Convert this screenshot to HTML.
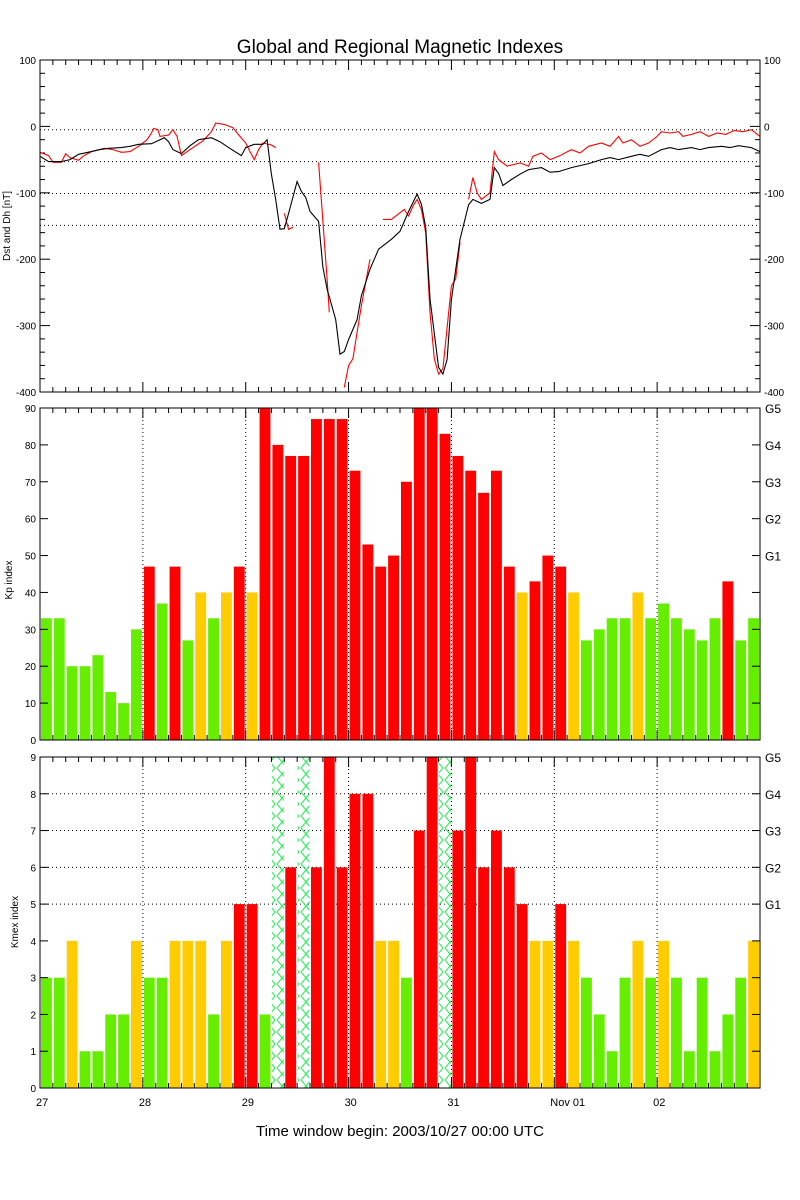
<!DOCTYPE html>
<html><head><meta charset="utf-8">
<style>
html,body{margin:0;padding:0;background:#fff;}
svg{display:block;font-family:"Liberation Sans",sans-serif;}
</style></head>
<body>
<svg id="chart" width="800" height="1200" viewBox="0 0 800 1200" xmlns="http://www.w3.org/2000/svg">
<defs>
<pattern id="xhatch" patternUnits="userSpaceOnUse" width="12" height="12">
<path d="M1 0 L11 12 M11 0 L1 12" stroke="#22ee55" stroke-width="1" fill="none"/>
</pattern>
</defs>
<text x="400" y="53" text-anchor="middle" font-size="19" fill="#000">Global and Regional Magnetic Indexes</text>
<text x="400" y="1136" text-anchor="middle" font-size="15" fill="#000">Time window begin: 2003/10/27 00:00 UTC</text>
<g id="g"></g>
</svg>
<script>
// ---- data ----
const dayLabels = ["27","28","29","30","31","Nov 01","02"];
const kpValues = [33,33,20,20,23,13,10,30, 47,37,47,27,40,33,40,47, 40,90,80,77,77,87,87,87, 73,53,47,50,70,90,90,83, 77,73,67,73,47,40,43,50, 47,40,27,30,33,33,40,33, 37,33,30,27,33,43,27,33];
const kmexValues = [3,3,4,1,1,2,2,4, 3,3,4,4,4,2,4,5, 5,2,null,6,null,6,9,6, 8,8,4,4,3,7,9,null, 7,9,6,7,6,5,4,4, 5,4,3,2,1,3,4,3, 4,3,1,3,1,2,3,4];
const dstHours = [0,2,5,7,9,12,14,16,19,21,23,26,28,29,30,31,33,35,37,40,42,44,47,48,50,52,53,54,55,56,57,58,60,61,62,63,65,66,67,68,69,70,71,72,74,75,77,79,82,84,85,86,88,89,90,91,93,94,95,96,98,100,101,103,105,106,107,108,110,112,114,117,119,121,124,126,128,131,133,135,138,140,142,145,147,149,152,154,156,159,161,163,166,168];
const dstValues = [-45,-53,-53,-50,-42,-38,-35,-33,-32,-30,-27,-26,-20,-17,-23,-35,-41,-29,-20,-17,-23,-32,-44,-32,-27,-27,-20,-72,-110,-155,-154,-131,-83,-98,-107,-128,-143,-212,-245,-268,-291,-343,-339,-321,-291,-255,-215,-185,-170,-158,-143,-128,-102,-117,-152,-260,-363,-373,-351,-261,-170,-118,-110,-116,-110,-62,-71,-89,-80,-72,-65,-62,-69,-68,-62,-59,-56,-50,-47,-50,-45,-42,-45,-35,-32,-35,-32,-35,-32,-30,-32,-29,-32,-38];
const dhHours = [0,2,3,5,6,7,9,10,12,15,17,19,21,23,25,26,26.5,27.5,28,30,31,32,33,35,38,39,40,41,43,45,46,48,49,50,51,52,54,55,null,57,58,59,null,65,67,67.5,null,71,72,73,74,75,77,null,80,82,84,85,86,87,88,89,90,91,92,93,94,96,97,98,null,100,101,102,103,105,106,107,109,112,114,115,117,119,121,124,126,128,131,133,135,136,138,140,142,144,145,147,149,150,152,154,156,158,160,162,164,166,168];
const dhValues = [-39,-44,-54,-54,-41,-47,-51,-45,-38,-33,-35,-39,-38,-30,-20,-10,-3,-5,-15,-13,-5,-15,-44,-35,-22,-15,-8,5,3,-2,-10,-25,-38,-50,-35,-25,-28,-32,null,-131,-155,-152,null,-54,-230,-280,null,-393,-360,-350,-310,-270,-200,null,-140,-140,-130,-125,-135,-120,-110,-125,-160,-280,-350,-373,-365,-240,-230,-175,null,-110,-77,-100,-110,-100,-38,-50,-60,-55,-60,-45,-40,-50,-45,-35,-40,-30,-25,-30,-15,-25,-20,-30,-25,-15,-8,-10,-8,-15,-12,-8,-15,-10,-12,-6,-8,-5,-15];
const dstTicks = [100,0,-100,-200,-300,-400];
const dstGrid = [-5,-53,-101,-149];
const kpTicks = [0,10,20,30,40,50,60,70,80,90];
const kmexTicks = [0,1,2,3,4,5,6,7,8,9];
const gLabels = ["G1","G2","G3","G4","G5"];

// ---- layout ----
const X0=40, X1=760, HOURS=168;
const xs = h => X0 + h*(X1-X0)/HOURS;
const P1={top:60,bot:392,min:-400,max:100};
const P2={top:408,bot:740,min:0,max:90};
const P3={top:757,bot:1088,min:0,max:9};
const ys = (p,v) => p.bot - (v-p.min)*(p.bot-p.top)/(p.max-p.min);
const NS="http://www.w3.org/2000/svg";
const G=document.getElementById('g');
function mk(tag,attrs){const e=document.createElementNS(NS,tag);for(const k in attrs)e.setAttribute(k,attrs[k]);G.appendChild(e);return e;}
function line(x1,y1,x2,y2,extra){return mk('line',Object.assign({x1,y1,x2,y2,stroke:'#000','stroke-width':1},extra||{}));}
function txt(x,y,s,anchor,size){const t=mk('text',{x,y,'text-anchor':anchor,'font-size':size||11,fill:'#000'});t.textContent=s;return t;}
const dotted={'stroke-dasharray':'1,3'};

function frame(p,name){
  const r=mk('rect',{x:X0,y:p.top,width:X1-X0,height:p.bot-p.top,fill:'none',stroke:'#000','stroke-width':1});
  
  
  for(let h=0;h<=HOURS;h+=3){
    const major=h%24===0, L=major?10:5;
    line(xs(h),p.top,xs(h),p.top+L);
    line(xs(h),p.bot,xs(h),p.bot-L);
  }
}
function dayGrid(p){
  for(let d=1;d<7;d++) line(xs(d*24),p.top,xs(d*24),p.bot,dotted);
}

// Panel 1
dstGrid.forEach(v=>line(X0,ys(P1,v),X1,ys(P1,v),dotted));
for(let v=-400;v<=100;v+=20){
  const L=(v%100===0)?10:5;
  line(X0,ys(P1,v),X0+L,ys(P1,v)); line(X1,ys(P1,v),X1-L,ys(P1,v));
}
dstTicks.forEach(v=>{
  const t1=txt(X0-4,ys(P1,v)+4,String(v),'end',10);
  
  
  const t2=txt(X1+4,ys(P1,v)+4,String(v),'start',10);
  
  
});
function series(hs,vs,color,name){
  let d='',pen=false;
  for(let i=0;i<hs.length;i++){
    if(hs[i]===null||vs[i]===null){pen=false;continue;}
    d+=(pen?'L':'M')+xs(hs[i]).toFixed(1)+' '+ys(P1,vs[i]).toFixed(1)+' ';pen=true;
  }
  const p=mk('path',{d,fill:'none',stroke:color,'stroke-width':1.1});
  
  
}
series(dhHours,dhValues,'#ff0000','dh-regional-line');
series(dstHours,dstValues,'#000000','dst-global-line');
frame(P1,'dst-panel');
const yt1=txt(0,0,'Dst and Dh [nT]','middle',10);
yt1.setAttribute('transform','translate(10,226) rotate(-90)');



// Panel 2 Kp
const slotW=(X1-X0)/kpValues.length;
function colKp(v){return v<40?'#66ee00':(v===40?'#ffcc00':'#ff0000');}
function colKm(v){return v<4?'#66ee00':(v===4?'#ffcc00':'#ff0000');}
dayGrid(P2);
kpValues.forEach((v,i)=>{
  const y=ys(P2,v);
  const b=mk('rect',{x:X0+i*slotW+1,y,width:slotW-2,height:P2.bot-y,fill:colKp(v)});
  
  
});
frame(P2,'kp-panel');
kpTicks.forEach(v=>{
  line(X0,ys(P2,v),X0+8,ys(P2,v)); line(X1,ys(P2,v),X1-8,ys(P2,v));
  const t=txt(X0-4,ys(P2,v)+4,String(v),'end',10);
  
  
});
gLabels.forEach((s,i)=>{
  const t=txt(X1+5,ys(P2,50+i*10)+5,s,'start',12);
  
  
});
const yt2=txt(0,0,'Kp index','middle',10);
yt2.setAttribute('transform','translate(12,580) rotate(-90)');



// Panel 3 Kmex
[5,6,7,8].forEach(v=>line(X0,ys(P3,v),X1,ys(P3,v),dotted));
dayGrid(P3);
kmexValues.forEach((v,i)=>{
  let b;
  if(v===null){
    b=mk('rect',{x:X0+i*slotW+0.5,y:P3.top,width:slotW-1,height:P3.bot-P3.top,fill:'url(#xhatch)'});
    
  } else {
    const y=ys(P3,v);
    b=mk('rect',{x:X0+i*slotW+1,y,width:slotW-2,height:P3.bot-y,fill:colKm(v)});
    
  }
  
});
frame(P3,'kmex-panel');
kmexTicks.forEach(v=>{
  line(X0,ys(P3,v),X0+8,ys(P3,v)); line(X1,ys(P3,v),X1-8,ys(P3,v));
  const t=txt(X0-4,ys(P3,v)+4,String(v),'end',10);
  
  
});
gLabels.forEach((s,i)=>{
  const t=txt(X1+5,ys(P3,5+i)+5,s,'start',12);
  
  
});
const yt3=txt(0,0,'Kmex index','middle',10);
yt3.setAttribute('transform','translate(18,922) rotate(-90)');



// x labels
dayLabels.forEach((s,i)=>{
  const t=txt(xs(i*24)-4,1106,s,'start',11);
  
  
});
</script>
</body></html>
